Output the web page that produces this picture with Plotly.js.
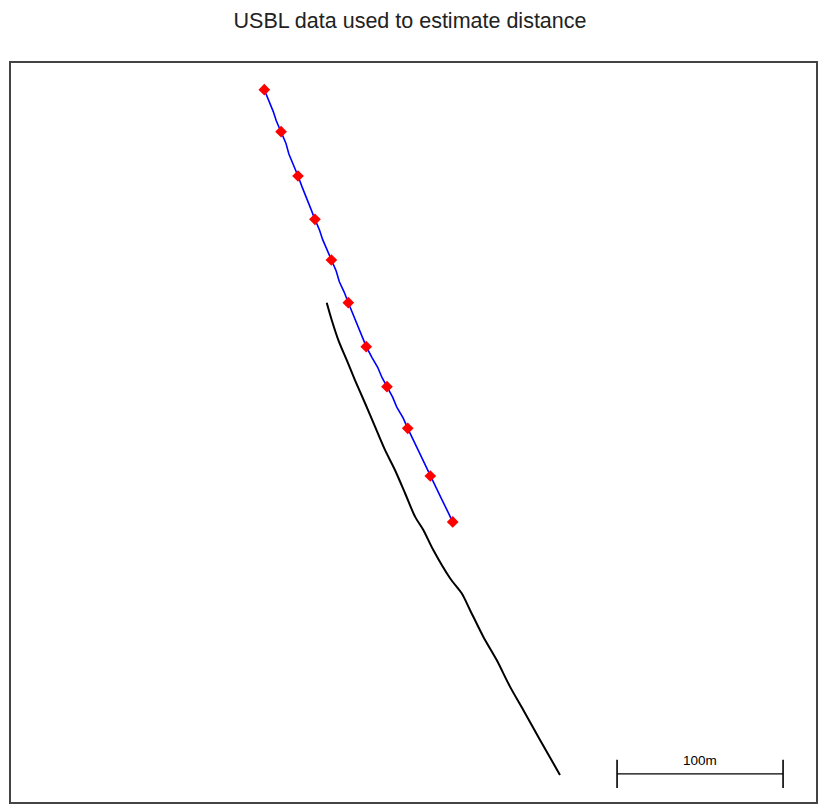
<!DOCTYPE html>
<html>
<head>
<meta charset="utf-8">
<script src="https://cdn.plot.ly/plotly-3.0.1.min.js"></script>
<style>html,body{margin:0;padding:0;background:#fff;}#chart{width:820px;height:805px;}</style>
</head>
<body>
<div id="chart"></div>
<script>
// USBL fixes (metres, local easting / northing)
const usblX = [153.2, 163.3, 173.5, 183.7, 193.6, 203.8, 214.6, 227.1, 239.6, 253.2, 266.7];
const usblY = [429.7, 404.4, 377.7, 351.6, 327.1, 301.4, 274.9, 250.8, 225.7, 197.0, 169.3];

// Blue track (dense USBL track, metres)
const trackX = [153.2, 156.0, 158.6, 160.4, 163.3, 166.2, 168.0, 171.0, 173.5, 176.0, 178.9, 181.0, 183.7,
  186.5, 188.3, 191.2, 193.6, 196.5, 198.4, 201.3, 203.8, 206.6, 209.0, 212.0, 214.6, 218.0, 221.5, 224.0,
  227.1, 230.5, 233.0, 236.8, 239.6, 243.0, 246.8, 250.0, 253.2, 256.5, 259.8, 263.5, 266.7];
const trackY = [429.7, 423.0, 416.5, 411.0, 404.4, 397.5, 391.0, 384.0, 377.7, 371.0, 364.2, 358.5, 351.6,
  345.0, 339.5, 333.0, 327.1, 320.5, 314.0, 307.8, 301.4, 294.6, 288.0, 281.5, 274.9, 268.5, 262.5, 256.5,
  250.8, 244.5, 238.5, 232.0, 225.7, 218.5, 211.0, 203.5, 197.0, 190.0, 183.5, 176.0, 169.3];

// Black track (metres)
const shipX = [190.8, 193.8, 197.8, 202.8, 207.8, 213.9, 219.9, 225.9, 231.9, 238.0, 244.0, 249.0, 255.0,
  265.1, 272.1, 277.1, 285.1, 293.2, 301.2, 309.2, 319.3, 331.3];
const shipY = [301.4, 291.0, 278.9, 266.9, 254.8, 240.8, 226.7, 212.7, 200.6, 186.6, 172.5, 164.5, 152.4,
  135.4, 126.3, 116.3, 100.2, 86.1, 70.1, 56.0, 38.0, 16.9];

// Scale bar (metres)
const scaleStart = 365.7;
const scaleLength = 100;
const scaleY = 17.5;
const scaleLabel = "100m";

const traces = [
  {x: shipX, y: shipY, mode: 'lines', line: {color: '#000000', width: 2, shape: 'spline', smoothing: 0.8}, hoverinfo: 'skip'},
  {x: trackX, y: trackY, mode: 'lines', line: {color: '#0000ff', width: 1.6}, hoverinfo: 'skip'},
  {x: usblX, y: usblY, mode: 'markers', marker: {color: '#ff0000', symbol: 'diamond', size: 9}, hoverinfo: 'skip'},
  {x: [scaleStart, scaleStart + scaleLength], y: [scaleY, scaleY], mode: 'lines',
   line: {color: '#000000', width: 1.2}, hoverinfo: 'skip'},
  {x: [scaleStart, scaleStart, null, scaleStart + scaleLength, scaleStart + scaleLength],
   y: [scaleY + 8.5, scaleY - 8.5, null, scaleY + 8.5, scaleY - 8.5], mode: 'lines',
   line: {color: '#000000', width: 1.6}, hoverinfo: 'skip'}
];

const layout = {
  width: 820, height: 805,
  margin: {l: 10, r: 3, t: 62, b: 2},
  paper_bgcolor: '#ffffff', plot_bgcolor: '#ffffff',
  showlegend: false,
  title: {text: 'USBL data used to estimate distance', font: {family: 'Liberation Sans, Arial, sans-serif', size: 21.5, color: '#222'},
          x: 0.5, xanchor: 'center', y: 0.975, yanchor: 'middle'},
  xaxis: {range: [0, 807 / 1.66], showgrid: false, zeroline: false, showticklabels: false, ticks: '', fixedrange: true},
  yaxis: {range: [0, 741 / 1.66], showgrid: false, zeroline: false, showticklabels: false, ticks: '', fixedrange: true},
  shapes: [{type: 'rect', xref: 'paper', yref: 'paper', x0: 0, x1: 1, y0: 0, y1: 1,
            line: {color: '#444444', width: 2}}],
  annotations: [{x: scaleStart + scaleLength / 2, y: scaleY + 2.5, xref: 'x', yref: 'y', text: scaleLabel,
                 showarrow: false, yanchor: 'bottom', font: {family: 'Liberation Sans, Arial, sans-serif', size: 13.5, color: '#000'}}]
};

Plotly.newPlot('chart', traces, layout, {displayModeBar: false, staticPlot: true});
</script>
</body>
</html>
